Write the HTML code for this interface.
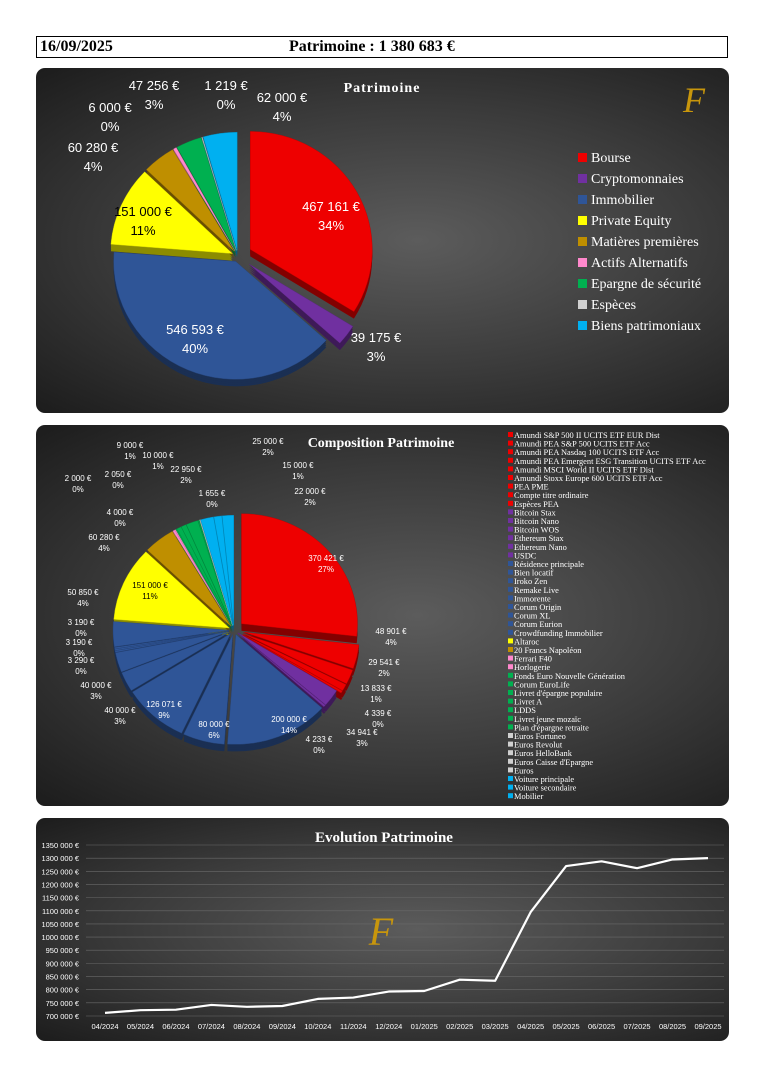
<!DOCTYPE html>
<html><head><meta charset="utf-8"><style>
body{margin:0;width:768px;height:1090px;background:#fff;position:relative;overflow:hidden;font-family:"Liberation Serif",serif}
.hdr{position:absolute;left:36px;top:36px;width:690px;height:20px;border:1.5px solid #000;font-weight:bold;font-size:16px;line-height:20px}
.panel{position:absolute;left:36px;width:693px;border-radius:9px;background:radial-gradient(ellipse at 55% 50%,#5c5c5c 0%,#3a3a3a 55%,#1c1c1c 100%);overflow:hidden}
svg{position:absolute;left:0;top:0}
</style></head><body>
<div class="hdr"><span style="position:absolute;left:3px">16/09/2025</span><span style="position:absolute;left:252px">Patrimoine : 1 380 683 €</span></div>
<div class="panel" style="top:68px;height:345px"><svg id="s1" width="693" height="345"></svg></div>
<div class="panel" style="top:425px;height:381px"><svg id="s2" width="693" height="381"></svg></div>
<div class="panel" style="top:818px;height:223px"><svg id="s3" width="693" height="223"></svg></div>
<script>
// ---- data ----
const cat1 = ["Bourse","Cryptomonnaies","Immobilier","Private Equity","Matières premières","Actifs Alternatifs","Epargne de sécurité","Espèces","Biens patrimoniaux"];
const val1 = [467161,39175,546593,151000,60280,6000,47256,1219,62000];
const col1 = ["#ee0000","#7030a0","#2f5597","#ffff00","#bf8f00","#ff88cc","#00b050","#d0d0d0","#00b0f0"];
const cat2 = ["Amundi S&P 500 II UCITS ETF EUR Dist","Amundi PEA S&P 500 UCITS ETF Acc","Amundi PEA Nasdaq 100 UCITS ETF Acc","Amundi PEA Emergent ESG Transition UCITS ETF Acc","Amundi MSCI World II UCITS ETF Dist","Amundi Stoxx Europe 600 UCITS ETF Acc","PEA PME","Compte titre ordinaire","Espèces PEA","Bitcoin Stax","Bitcoin Nano","Bitcoin WOS","Ethereum Stax","Ethereum Nano","USDC","Résidence principale","Bien locatif","Iroko Zen","Remake Live","Immorente","Corum Origin","Corum XL","Corum Eurion","Crowdfunding Immobilier","Altaroc","20 Francs Napoléon","Ferrari F40","Horlogerie","Fonds Euro Nouvelle Génération","Corum EuroLife","Livret d'épargne populaire","Livret A","LDDS","Livret jeune mozaïc","Plan d'épargne retraite","Euros Fortuneo","Euros Revolut","Euros HelloBank","Euros Caisse d'Epargne","Euros","Voiture principale","Voiture secondaire","Mobilier"];
const val2 = [370421,48901,29541,13833,4339,63,63,0,0, 34941,4233,0,0,0,1, 200000,80000,126071,40000,40000,3290,3190,3190,50850, 151000,60280,4000,2000, 2050,9000,10000,22950,1655,1000,601, 300,300,300,200,119, 25000,15000,22000];
const grp2 = [0,0,0,0,0,0,0,0,0,1,1,1,1,1,1,2,2,2,2,2,2,2,2,2,3,4,5,5,6,6,6,6,6,6,6,7,7,7,7,7,8,8,8];
const months = ["04/2024","05/2024","06/2024","07/2024","08/2024","09/2024","10/2024","11/2024","12/2024","01/2025","02/2025","03/2025","04/2025","05/2025","06/2025","07/2025","08/2025","09/2025"];
const evo = [712000,722000,724000,742000,735000,738000,765000,770000,793000,795000,838000,834000,1095000,1270000,1288000,1262000,1295000,1300000];
const yTicks = [700000,750000,800000,850000,900000,950000,1000000,1050000,1100000,1150000,1200000,1250000,1300000,1350000];

const NS="http://www.w3.org/2000/svg";
function mk(p,t,a){const e=document.createElementNS(NS,t);for(const k in a)e.setAttribute(k,a[k]);p.appendChild(e);return e;}
function fmt(v){return Math.round(v).toString().replace(/\B(?=(\d{3})+(?!\d))/g," ")+" €";}
function fmtTick(v){const s=Math.round(v).toString();return s.slice(0,-3)+" "+s.slice(-3)+" €";}
function shade(c,f){const n=parseInt(c.slice(1),16);let r=(n>>16)*f,g=((n>>8)&255)*f,b=(n&255)*f;return "rgb("+[r,g,b].map(Math.round).join(",")+")";}
function pie(svg,cx,cy,rx,ry,vals,cols,ex,depth,names){
  const tot=vals.reduce((a,b)=>a+b,0);let a=-Math.PI/2;const out=[];
  vals.forEach((v,i)=>{const da=v/tot*2*Math.PI;const m=a+da/2;out.push({a0:a,a1:a+da,m,dx:Math.cos(m)*ex[i],dy:Math.sin(m)*ex[i]*ry/rx});a+=da;});
  function path(s,oy){const x=cx+s.dx,y=cy+s.dy+oy;const large=(s.a1-s.a0)>Math.PI?1:0;
    return `M${x},${y} L${x+rx*Math.cos(s.a0)},${y+ry*Math.sin(s.a0)} A${rx},${ry} 0 ${large} 1 ${x+rx*Math.cos(s.a1)},${y+ry*Math.sin(s.a1)} Z`;}
  out.forEach((s,i)=>{if(vals[i]<=0)return;for(let d=depth;d>0;d-=2){const p=mk(svg,"path",{d:path(s,d),fill:shade(cols[i],0.55)});
    }});
  out.forEach((s,i)=>{if(vals[i]<=0)return;const p=mk(svg,"path",{d:path(s,0),fill:cols[i],stroke:shade(cols[i],0.8),"stroke-width":0.4});
    });
  return {out,tot};
}
function txt(svg,x,y,s,o){const t=mk(svg,"text",Object.assign({x,y,fill:"#fff","font-family":'"Liberation Sans",sans-serif',"font-size":12,"text-anchor":"middle"},o||{}));t.textContent=s;return t;}

// ---- chart 1 ----
(function(){const s=document.getElementById("s1");
  const t=txt(s,346,24,"Patrimoine",{"font-family":'"Liberation Serif",serif',"font-weight":"bold","font-size":14,"letter-spacing":"1"});
  
  const lg=txt(s,658,44,"F",{"font-family":'"Liberation Serif",serif',"font-style":"italic","font-size":36,fill:"#c8960c"});
  
  const ex=[14,14,6,6,6,6,6,6,6];
  const r=pie(s,202,188,122,118,val1,col1,ex,7,cat1);
  const lp=[[295,143],[340,274],[159,266],[107,148],[57,84],[74,44],[118,22],[190,22],[246,34]];
  const dk=[0,0,0,1,0,0,0,0,0];
  val1.forEach((v,i)=>{const c=dk[i]?"#000":"#fff";const a=txt(s,lp[i][0],lp[i][1],fmt(v),{"font-size":13,fill:c});
    
    const b=txt(s,lp[i][0],lp[i][1]+19,Math.round(v/r.tot*100)+"%",{"font-size":13,fill:c});
    });
  cat1.forEach((c,i)=>{const y=94+i*21;const q=mk(s,"rect",{x:542,y:y-9,width:9,height:9,fill:col1[i]});
    
    const l=txt(s,555,y,c,{"text-anchor":"start","font-family":'"Liberation Serif",serif',"font-size":14});
    });
})();

// ---- chart 2 ----
(function(){const s=document.getElementById("s2");
  const t=txt(s,345,22,"Composition Patrimoine",{"font-family":'"Liberation Serif",serif',"font-weight":"bold","font-size":14});
  
  const cols=grp2.map(g=>col1[g]);
  const ex=val2.map((v,i)=>i<9?10:5);
  const r=pie(s,198,205,116,110,val2,cols,ex,7,cat2);
  const labels=[[0,290,136],[1,355,209],[2,348,240],[3,340,266],[4,342,291],[9,326,310],[10,283,317],[15,253,297],[16,178,302],[17,128,282],[18,84,288],[19,60,263],[20,45,238],[21,43,220],[22,45,200],[23,47,170],[24,114,163],[25,68,115],[26,84,90],[27,42,56],[28,82,52],[29,94,23],[30,122,33],[31,150,47],[32,176,71],[40,232,19],[41,262,43],[42,274,69]];
  labels.forEach(([i,x,y])=>{const dark=grp2[i]===3;const a=txt(s,x,y,fmt(val2[i]),{"font-size":8,fill:dark?"#000":"#fff"});
    
    const b=txt(s,x,y+11,Math.round(val2[i]/r.tot*100)+"%",{"font-size":8,fill:dark?"#000":"#fff"});
    });
  cat2.forEach((c,i)=>{const y=13+i*8.6;const q=mk(s,"rect",{x:472,y:y-6,width:5,height:5,fill:cols[i]});
    
    const l=txt(s,478,y,c,{"text-anchor":"start","font-family":'"Liberation Serif",serif',"font-size":8.4});
    });
})();

// ---- chart 3 ----
(function(){const s=document.getElementById("s3");
  const t=txt(s,348,24,"Evolution Patrimoine",{"font-family":'"Liberation Serif",serif',"font-weight":"bold","font-size":15});
  
  const y0=198,y1=27,vmin=700000,vmax=1350000;const Y=v=>y0+(v-vmin)/(vmax-vmin)*(y1-y0);
  const x0=69,x1=672;const X=i=>x0+i*(x1-x0)/(months.length-1);
  yTicks.forEach(v=>{const g=mk(s,"line",{x1:50,x2:688,y1:Y(v),y2:Y(v),stroke:"#6a6a6a","stroke-width":0.6});
    
    const l=txt(s,43,Y(v)+3,fmtTick(v),{"text-anchor":"end","font-size":7.5});
    });
  months.forEach((m,i)=>{const l=txt(s,X(i),211,m,{"font-size":7.5});
    });
  const lg=txt(s,345,127,"F",{"font-family":'"Liberation Serif",serif',"font-style":"italic","font-size":40,fill:"#c8960c"});
  
  const p=mk(s,"polyline",{points:evo.map((v,i)=>X(i)+","+Y(v)).join(" "),fill:"none",stroke:"#fff","stroke-width":2.2,"stroke-linejoin":"round"});
  
})();
</script>
</body></html>
